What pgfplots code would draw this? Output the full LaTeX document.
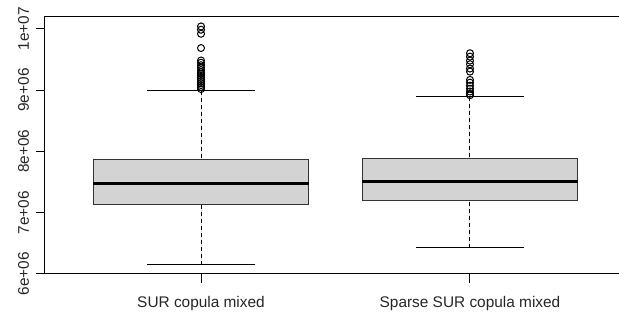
\documentclass[border=0pt]{standalone}
\usepackage{fontspec}
\setmainfont{Liberation Sans}
\usepackage{pgfplots}
\pgfplotsset{compat=1.18}
\usepgfplotslibrary{statistics}
\definecolor{boxgray}{RGB}{211,211,211}
\begin{document}
\begin{tikzpicture}
\pgfplotsset{
  boxplot/draw/lower whisker/.code={
    \draw[black, line width=0.5pt, dash pattern=on 2pt off 1.5pt]
      (boxplot box cs:\pgfplotsboxplotvalue{lower whisker},0.5) --
      (boxplot box cs:\pgfplotsboxplotvalue{lower quartile},0.5);
    \draw[black, line width=0.5pt]
      (boxplot whisker cs:\pgfplotsboxplotvalue{lower whisker},0) --
      (boxplot whisker cs:\pgfplotsboxplotvalue{lower whisker},1);
  },
  boxplot/draw/upper whisker/.code={
    \draw[black, line width=0.5pt, dash pattern=on 2pt off 1.5pt]
      (boxplot box cs:\pgfplotsboxplotvalue{upper whisker},0.5) --
      (boxplot box cs:\pgfplotsboxplotvalue{upper quartile},0.5);
    \draw[black, line width=0.5pt]
      (boxplot whisker cs:\pgfplotsboxplotvalue{upper whisker},0) --
      (boxplot whisker cs:\pgfplotsboxplotvalue{upper whisker},1);
  },
}
\begin{axis}[
  scale only axis,
  width=290.5pt, height=128.5pt,
  xmin=0.42, xmax=2.58,
  ymin=5.996, ymax=10.192,
  axis line style={black, line width=0.5pt},
  tick style={black, line width=0.5pt},
  tick align=outside,
  tick pos=left,
  major tick length=4.5pt,
  xtick={1,2},
  xticklabels={SUR copula mixed, Sparse SUR copula mixed},
  ytick={6,7,8,9,10},
  yticklabels={6e+06,7e+06,8e+06,9e+06,1e+07},
  scaled y ticks=false,
  /pgf/number format/assume math mode=true,
  ticklabel style={font=\fontsize{7.7}{9}\selectfont, text=black!85},
  yticklabel style={rotate=90, anchor=south},
  xticklabel style={anchor=north, yshift=-3pt},
  boxplot/draw direction=y,
  boxplot/box extend=0.8,
  boxplot/whisker extend=0.4,
  boxplot/every median/.style={line width=1.5pt, black},
  boxplot/every box/.style={draw=black!80, line width=0.5pt, fill=boxgray},
]
\addplot+[boxplot prepared={draw position=1,
    lower whisker=6.147, lower quartile=7.131, median=7.474,
    upper quartile=7.873, upper whisker=8.988},
  black, fill=boxgray, mark=o, mark size=1.75pt,
  mark options={black, line width=0.5pt, solid, fill=none}]
  coordinates {(1,10.038) (1,9.984) (1,9.918) (1,9.685) (1,9.482) (1,9.445) (1,9.405)
  (1,9.365) (1,9.325) (1,9.290) (1,9.260) (1,9.230) (1,9.200) (1,9.170) (1,9.140)
  (1,9.110) (1,9.080) (1,9.050) (1,9.015)};
\addplot+[boxplot prepared={draw position=2,
    lower whisker=6.424, lower quartile=7.197, median=7.502,
    upper quartile=7.882, upper whisker=8.890},
  black, fill=boxgray, mark=o, mark size=1.75pt,
  mark options={black, line width=0.5pt, solid, fill=none}]
  coordinates {(2,9.600) (2,9.545) (2,9.480) (2,9.420) (2,9.350) (2,9.300) (2,9.165)
  (2,9.120) (2,9.070) (2,9.020) (2,8.975) (2,8.940) (2,8.915)};
\coordinate (TL) at (rel axis cs:0,1);
\coordinate (BL) at (rel axis cs:0,0);
\end{axis}
\pgfresetboundingbox
\path[use as bounding box] ([xshift=-22.5pt,yshift=8.5pt]TL) rectangle ([xshift=287pt,yshift=-20pt]BL);
\end{tikzpicture}
\end{document}
